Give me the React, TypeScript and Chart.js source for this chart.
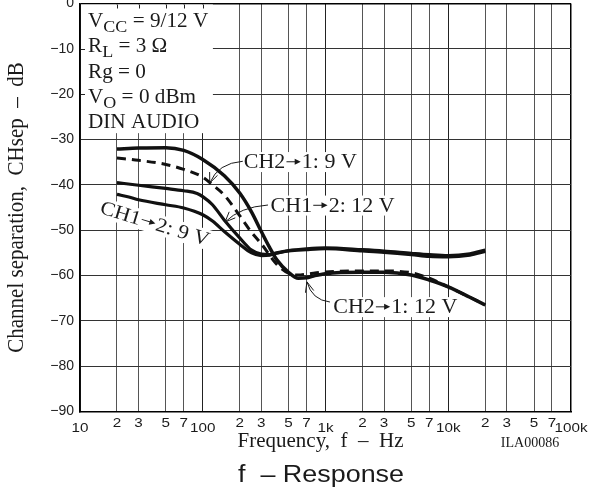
import React, { useEffect, useRef } from 'react';
import { Chart, registerables } from 'chart.js';

Chart.register(...registerables);

// ---------- axis ticks ----------
const X_TICKS = [10, 20, 30, 50, 70, 100, 200, 300, 500, 700, 1000, 2000, 3000, 5000, 7000, 10000, 20000, 30000, 50000, 70000, 100000];
const X_TICK_LABELS = ['10', '2', '3', '5', '7', '100', '2', '3', '5', '7', '1k', '2', '3', '5', '7', '10k', '2', '3', '5', '7', '100k'];
const Y_TICKS = [0, -10, -20, -30, -40, -50, -60, -70, -80, -90];

// ---------- series (frequency Hz, channel separation dB) ----------
const FREQ_CH2_1_12V = [20, 30, 50, 70, 100, 150, 200, 250, 300, 350, 400, 500, 600, 700, 800, 1000, 2000, 3000, 5000, 7000, 10000, 15000, 20000];
const SEP_CH2_1_12V = [-32.1, -31.9, -31.8, -32.4, -34.4, -38.0, -41.8, -46.0, -50.3, -53.8, -56.5, -59.3, -60.6, -60.5, -60.1, -59.6, -59.3, -59.3, -59.9, -61.0, -62.5, -64.8, -66.5];

const FREQ_CH2_1_9V = [20, 30, 50, 70, 100, 120, 150, 185, 200, 250, 300, 400, 500, 600, 700, 1000, 2000, 3000, 5000, 7000, 10000, 15000, 20000];
const SEP_CH2_1_9V = [-34.1, -34.6, -35.5, -36.6, -38.3, -40.0, -42.3, -45.5, -46.8, -50.5, -53.0, -57.5, -59.5, -59.9, -59.7, -59.2, -59.0, -59.0, -59.4, -60.6, -62.5, -64.8, -66.5];

const FREQ_CH1_2_12V = [20, 30, 50, 70, 90, 100, 120, 150, 200, 250, 300, 350, 400, 500, 700, 1000, 2000, 3000, 5000, 7000, 10000, 15000, 20000];
const SEP_CH1_2_12V = [-39.5, -40.1, -40.8, -41.3, -41.9, -42.6, -44.4, -47.8, -51.7, -54.4, -55.3, -55.4, -55.0, -54.5, -54.1, -53.9, -54.3, -54.6, -55.1, -55.4, -55.6, -55.2, -54.4];

const FREQ_CH1_2_9V = [20, 25, 30, 50, 70, 100, 120, 150, 200, 250, 300, 350, 400, 500, 700, 1000, 2000, 3000, 5000, 7000, 10000, 15000, 20000];
const SEP_CH1_2_9V = [-42.1, -42.7, -43.3, -44.4, -45.1, -46.6, -48.0, -50.3, -53.1, -55.0, -55.6, -55.5, -55.1, -54.6, -54.3, -54.1, -54.6, -54.9, -55.4, -55.8, -55.9, -55.5, -54.7];

// ---------- texts ----------
const CONDITION_LINES: [string, boolean][][] = [
  [['V', false], ['CC', true], [' = 9/12 V', false]],
  [['R', false], ['L', true], [' = 3 Ω', false]],
  [['Rg = 0', false]],
  [['V', false], ['O', true], [' = 0 dBm', false]],
  [['DIN AUDIO', false]],
];
const Y_TITLE = 'Channel separation,  CHsep  –  dB';
const X_TITLE = 'Frequency,  f  –  Hz';
const CODE_TEXT = 'ILA00086';
const CAPTION = 'f  – Response';

const SERIF = '"Liberation Serif", "Times New Roman", serif';
const SANS = '"Liberation Sans", Arial, sans-serif';
const ARROW_W = 15;

const zip = (xs: number[], ys: number[]) => xs.map((x, i) => ({ x, y: ys[i] }));

function drawText(ctx: CanvasRenderingContext2D, s: string, x: number, y: number, font: string, align: CanvasTextAlign = 'left', sx = 1, baseline: CanvasTextBaseline = 'alphabetic') {
  ctx.save();
  ctx.font = font;
  ctx.textAlign = align;
  ctx.textBaseline = baseline;
  ctx.fillStyle = '#1a1a1a';
  ctx.translate(x, y);
  ctx.scale(sx, 1);
  ctx.fillText(s, 0, 0);
  ctx.restore();
}

// label text where '→' is drawn as a line with a solid head
function richParts(text: string) {
  const parts: { s: string; arrow: boolean }[] = [];
  text.split('→').forEach((p, i) => {
    if (i > 0) parts.push({ s: '→', arrow: true });
    if (p) parts.push({ s: p, arrow: false });
  });
  return parts;
}
function measureRich(ctx: CanvasRenderingContext2D, text: string, font: string) {
  let w = 0;
  ctx.font = font;
  richParts(text).forEach((p) => {
    w += p.arrow ? ARROW_W : ctx.measureText(p.s).width;
  });
  return w;
}
function fillRich(ctx: CanvasRenderingContext2D, text: string, font: string) {
  let x = 0;
  ctx.textAlign = 'left';
  ctx.textBaseline = 'alphabetic';
  ctx.font = font;
  richParts(text).forEach((p) => {
    if (p.arrow) {
      const ay = -6.3;
      ctx.save();
      ctx.strokeStyle = '#1a1a1a';
      ctx.lineWidth = 1;
      ctx.beginPath();
      ctx.moveTo(x + 1, ay);
      ctx.lineTo(x + ARROW_W - 5, ay);
      ctx.stroke();
      ctx.beginPath();
      ctx.moveTo(x + ARROW_W - 1, ay);
      ctx.lineTo(x + ARROW_W - 6.5, ay - 3);
      ctx.lineTo(x + ARROW_W - 6.5, ay + 3);
      ctx.closePath();
      ctx.fill();
      ctx.restore();
      x += ARROW_W;
    } else {
      ctx.fillText(p.s, x, 0);
      x += ctx.measureText(p.s).width;
    }
  });
}

const annotationPlugin = {
  id: 'annot',
  beforeDatasetsDraw(chart: any) {
    const ctx: CanvasRenderingContext2D = chart.ctx;
    const xs = chart.scales.x;
    const ys = chart.scales.y;
    const area = chart.chartArea;
    // white conditions box
    const l = area.left + 1;
    const r = xs.getPixelForValue(121);
    const t = area.top + 1;
    const b = ys.getPixelForValue(-28.6);
    ctx.save();
    ctx.fillStyle = '#fff';
    ctx.fillRect(l, t, r - l, b - t);
    ctx.strokeStyle = '#222';
    ctx.lineWidth = 1;
    ctx.beginPath();
    X_TICKS.forEach((v) => {
      if (v > 10 && v < 121) {
        const px = Math.round(xs.getPixelForValue(v)) + 0.5;
        ctx.moveTo(px, t);
        ctx.lineTo(px, t + 4);
      }
    });
    Y_TICKS.forEach((v) => {
      if (v < 0 && v > -28.6) {
        const py = Math.round(ys.getPixelForValue(v)) + 0.5;
        ctx.moveTo(l, py);
        ctx.lineTo(l + 4, py);
      }
    });
    ctx.stroke();
    ctx.restore();

    // conditions text
    const sx = 1.06;
    const mainFont = `20px ${SERIF}`;
    const subFont = `17px ${SERIF}`;
    CONDITION_LINES.forEach((line, i) => {
      let x = area.left + 8;
      const y = area.top + 23.2 + i * 25.4;
      line.forEach(([s, sub]) => {
        const font = sub ? subFont : mainFont;
        drawText(ctx, s, x, sub ? y + 5 : y, font, 'left', sx);
        ctx.save();
        ctx.font = font;
        x += ctx.measureText(s).width * sx;
        ctx.restore();
      });
    });

    // curve labels with white backgrounds
    const labels = [
      { text: 'CH2→1: 9 V', f: 216, db: -36.3, rot: 0 },
      { text: 'CH1→2: 12 V', f: 357, db: -45.9, rot: 0 },
      { text: 'CH2→1: 12 V', f: 1156, db: -68.3, rot: 0 },
      { text: 'CH1→2: 9 V', f: 14.3, db: -46.2, rot: 17 },
    ];
    const lsx = 1.1;
    const lf = `20px ${SERIF}`;
    labels.forEach((lb) => {
      const px = xs.getPixelForValue(lb.f);
      const py = ys.getPixelForValue(lb.db);
      ctx.save();
      ctx.translate(px, py);
      ctx.rotate((lb.rot * Math.PI) / 180);
      const w = measureRich(ctx, lb.text, lf) * lsx;
      ctx.fillStyle = '#fff';
      ctx.fillRect(-2, -16, w + 4, 20);
      ctx.scale(lsx, 1);
      ctx.fillStyle = '#1a1a1a';
      fillRich(ctx, lb.text, lf);
      ctx.restore();
    });
  },
  afterDatasetsDraw(chart: any) {
    const ctx: CanvasRenderingContext2D = chart.ctx;
    const xs = chart.scales.x;
    const ys = chart.scales.y;
    const leaders = [
      { from: [212, -34.8], ctrl: [133, -35.2], tip: [114, -39.6] },
      { from: [340, -44.45], ctrl: [201, -44.9], tip: [152, -48.2] },
      { from: [1087, -65.85], ctrl: [774, -65.4], tip: [706, -61.4] },
    ];
    ctx.save();
    ctx.strokeStyle = '#1a1a1a';
    ctx.lineWidth = 1;
    leaders.forEach((ld) => {
      const sx0 = xs.getPixelForValue(ld.from[0]);
      const sy0 = ys.getPixelForValue(ld.from[1]);
      const cx = xs.getPixelForValue(ld.ctrl[0]);
      const cy = ys.getPixelForValue(ld.ctrl[1]);
      const tx = xs.getPixelForValue(ld.tip[0]);
      const ty = ys.getPixelForValue(ld.tip[1]);
      ctx.beginPath();
      ctx.moveTo(sx0, sy0);
      ctx.quadraticCurveTo(cx, cy, tx, ty);
      const ang = Math.atan2(ty - cy, tx - cx);
      [-1, 1].forEach((s) => {
        const a = ang + Math.PI + s * 0.4;
        ctx.moveTo(tx, ty);
        ctx.lineTo(tx + 11 * Math.cos(a), ty + 11 * Math.sin(a));
      });
      ctx.stroke();
    });
    ctx.restore();
  },
  afterDraw(chart: any) {
    const ctx: CanvasRenderingContext2D = chart.ctx;
    const xs = chart.scales.x;
    const area = chart.chartArea;
    // x tick labels
    X_TICKS.forEach((v, i) => {
      const px = xs.getPixelForValue(v);
      const decade = Math.abs(Math.log10(v) - Math.round(Math.log10(v))) < 1e-9;
      drawText(ctx, X_TICK_LABELS[i], px, area.bottom + (decade ? 16.5 : 11.5), `13px ${SANS}`, 'center', 1.17, 'middle');
    });
    // y title (rotated, centred on the plot area)
    ctx.save();
    ctx.translate(22.7, (area.top + area.bottom) / 2);
    ctx.rotate(-Math.PI / 2);
    ctx.scale(1, 1.05);
    drawText(ctx, Y_TITLE, 0, 0, `21px ${SERIF}`, 'center', 1.0);
    ctx.restore();
    // x title and code
    drawText(ctx, X_TITLE, 320.5, 447, `20px ${SERIF}`, 'center', 1.05);
    drawText(ctx, CODE_TEXT, 530, 447, `14px ${SERIF}`, 'center', 1.0);
    // caption
    drawText(ctx, CAPTION, 321, 481.5, `23px ${SANS}`, 'center', 1.17);
  },
};

export default function App() {
  const ref = useRef<HTMLCanvasElement | null>(null);
  useEffect(() => {
    if (!ref.current) return;
    const lineStyle = { borderColor: '#111', pointRadius: 0, fill: false, cubicInterpolationMode: 'monotone' as const };
    const chart = new Chart(ref.current, {
      type: 'line',
      data: {
        datasets: [
          { label: 'CH2→1: 12 V', data: zip(FREQ_CH2_1_12V, SEP_CH2_1_12V), borderWidth: 3.5, ...lineStyle },
          { label: 'CH1→2: 12 V', data: zip(FREQ_CH1_2_12V, SEP_CH1_2_12V), borderWidth: 3.2, ...lineStyle },
          { label: 'CH1→2: 9 V', data: zip(FREQ_CH1_2_9V, SEP_CH1_2_9V), borderWidth: 3.2, ...lineStyle },
          { label: 'CH2→1: 9 V', data: zip(FREQ_CH2_1_9V, SEP_CH2_1_9V), borderWidth: 3, borderDash: [9, 6], ...lineStyle },
        ],
      },
      options: {
        responsive: false,
        animation: false,
        layout: { padding: { top: 3.5, right: 21, left: 0, bottom: 0 } },
        plugins: { legend: { display: false }, tooltip: { enabled: false }, title: { display: false } },
        scales: {
          x: {
            type: 'logarithmic',
            min: 10,
            max: 100000,
            afterBuildTicks: (s: any) => {
              s.ticks = X_TICKS.map((v) => ({ value: v }));
            },
            afterFit: (s: any) => {
              s.height = 78.5;
              s.paddingLeft = 0;
              s.paddingRight = 0;
            },
            ticks: { display: false },
            grid: {
              drawTicks: false,
              color: (c: any) => {
                const v = c.tick ? c.tick.value : 0;
                if (v === 100000) return '#000';
                const lg = Math.log10(v);
                return Math.abs(lg - Math.round(lg)) < 1e-9 ? '#222' : '#555';
              },
              lineWidth: (c: any) => (c.tick && c.tick.value === 100000 ? 1.5 : 1),
            },
            border: { display: true, color: '#000', width: 1.5 },
          },
          y: {
            min: -90,
            max: 0,
            afterBuildTicks: (s: any) => {
              s.ticks = Y_TICKS.map((v) => ({ value: v }));
            },
            afterFit: (s: any) => {
              s.width = 80;
              s.paddingTop = 0;
              s.paddingBottom = 0;
            },
            ticks: {
              padding: 6,
              color: '#222',
              font: { family: SANS, size: 14 },
              callback: (v: any) => (Number(v) === 0 ? '0' : '−' + Math.abs(Number(v))),
            },
            grid: {
              drawTicks: false,
              color: (c: any) => (c.tick && c.tick.value === 0 ? '#000' : '#333'),
              lineWidth: (c: any) => (c.tick && c.tick.value === 0 ? 1.5 : 1),
            },
            border: { display: true, color: '#000', width: 1.5 },
          },
        },
      },
      plugins: [annotationPlugin],
    });
    return () => chart.destroy();
  }, []);
  return (
    <div style={{ position: 'absolute', left: 0, top: 0, width: 592, height: 490, background: '#fff' }}>
      <canvas ref={ref} width={592} height={490} style={{ display: 'block' }} />
    </div>
  );
}
